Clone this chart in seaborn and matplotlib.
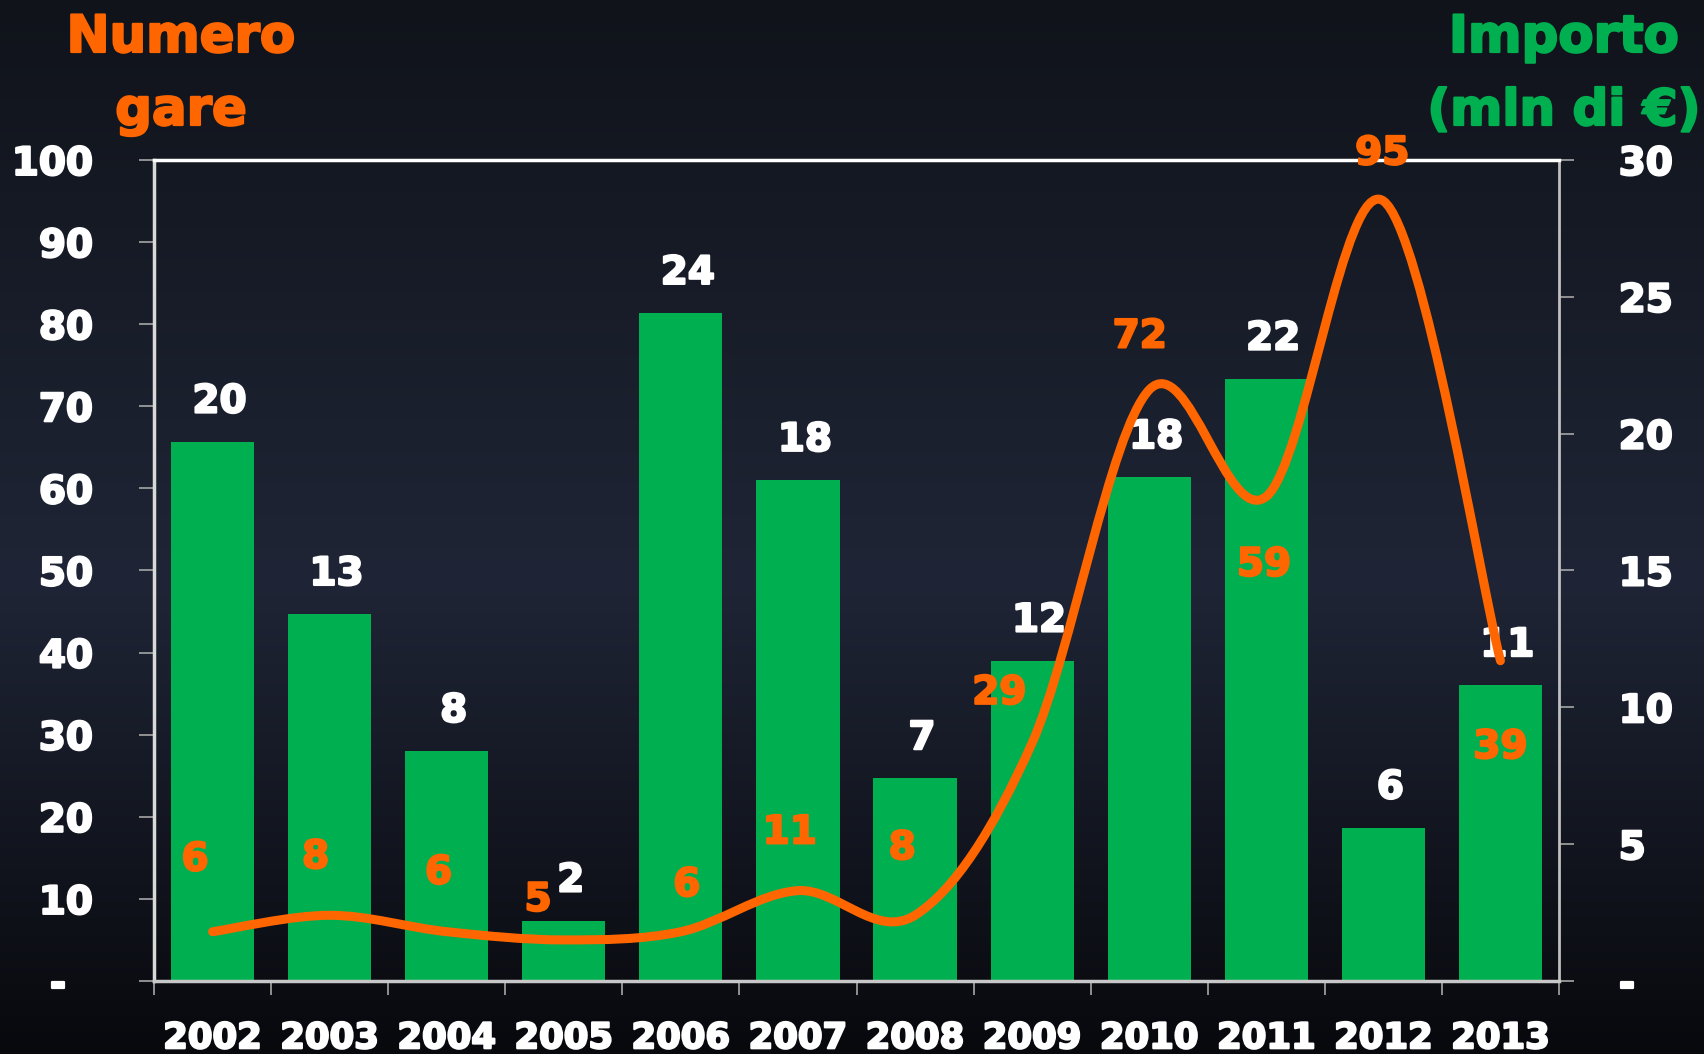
import numpy as np
import matplotlib
matplotlib.use("Agg")
import matplotlib.pyplot as plt
import matplotlib.patheffects as pe
from matplotlib.path import Path
from matplotlib.patches import PathPatch
from matplotlib.colors import LinearSegmentedColormap
import seaborn as sns

anni = ["2002", "2003", "2004", "2005", "2006", "2007",
        "2008", "2009", "2010", "2011", "2012", "2013"]
importo = [19.7, 13.4, 8.4, 2.2, 24.4, 18.3, 7.4, 11.7, 18.4, 22.0, 5.6, 10.8]
gare = [6, 8, 6, 5, 6, 11, 8, 29, 72, 59, 95, 39]

# dove stanno le etichette arancioni (spostamento in categorie, quota sull'asse sx)
gare_lbl_dx = [-0.15, -0.12, -0.07, -0.22, 0.05, -0.07, -0.11, -0.28, -0.08, -0.02, -0.01, 0.0]
gare_lbl_y = [14.8, 15.1, 13.2, 9.9, 11.7, 18.1, 16.2, 35.1, 78.5, 50.7, 100.8, 28.5]

VERDE = "#00B050"
ARANCIO = "#FF6600"
GRIGIO = "#a6a6a6"

sns.set_theme(style="ticks")
plt.rcParams["font.family"] = ["DejaVu Sans"]
plt.rcParams["font.weight"] = "bold"


def grassetto(t):
    # testo un po' piu' pesante, come il font dell'originale
    t.set_path_effects([pe.withStroke(linewidth=1.6, foreground=t.get_color())])


fig = plt.figure(figsize=(17.04, 10.54), dpi=100)

# sfondo sfumato
bg = fig.add_axes([0, 0, 1, 1], zorder=-10)
sfumato = LinearSegmentedColormap.from_list(
    "bg", [(0, "#10131a"), (0.55, "#1f2536"), (1, "#08090d")])
bg.imshow(np.linspace(0, 1, 256).reshape(-1, 1), aspect="auto", cmap=sfumato,
          extent=[0, 1, 0, 1])
bg.axis("off")

ax = fig.add_axes([0.0904, 0.0693, 0.8245, 0.7790])
ax2 = ax.twinx()
ax.set_zorder(3)
ax2.set_zorder(2)
ax.patch.set_visible(False)
ax2.patch.set_visible(False)

# barre importo (asse destro)
sns.barplot(x=anni, y=importo, color=VERDE, saturation=1, width=0.71,
            linewidth=0, errorbar=None, ax=ax2)
ax2.set_ylim(0, 30)
ax2.set_yticks(range(0, 31, 5))
ax2.set_yticklabels(["-"] + [str(v) for v in range(5, 31, 5)])
ax2.set_xlabel("")
ax2.set_ylabel("")
for s in ax2.spines.values():
    s.set_visible(False)
ax2.tick_params(axis="y", direction="out", length=11, width=1.2, color=GRIGIO,
                pad=32, labelsize=28, labelcolor="white")
for i, v in enumerate(importo):
    t = ax2.annotate(f"{v:.0f}", (i, v), xytext=(5, 29), textcoords="offset points",
                     ha="center", va="center", color="white", fontsize=28,
                     fontweight="bold")
    grassetto(t)

# linea numero gare (asse sinistro), smussata come in excel
pts = np.column_stack([np.arange(len(gare)), gare]).astype(float)
ext = np.vstack([pts[0], pts, pts[-1]])
verts = [pts[0]]
codes = [Path.MOVETO]
for i in range(len(pts) - 1):
    p0, p1, p2, p3 = ext[i], ext[i + 1], ext[i + 2], ext[i + 3]
    verts += [p1 + (p2 - p0) / 6, p2 - (p3 - p1) / 6, p2]
    codes += [Path.CURVE4] * 3
ax.add_patch(PathPatch(Path(verts, codes), fill=False, edgecolor=ARANCIO,
                       lw=6.5, capstyle="round", joinstyle="round"))

for i, g in enumerate(gare):
    t = ax.text(i + gare_lbl_dx[i], gare_lbl_y[i], str(g), ha="center", va="center",
                color=ARANCIO, fontsize=28, fontweight="bold", clip_on=False, zorder=6)
    grassetto(t)

ax.set_xlim(-0.5, 11.5)
ax.set_ylim(0, 100)
ax.set_yticks(range(0, 101, 10))
ax.set_yticklabels(["-  "] + [str(v) for v in range(10, 101, 10)])
ax.tick_params(axis="y", direction="out", length=11, width=1.2, color=GRIGIO,
               pad=33, labelsize=28, labelcolor="white", left=True, right=False)
ax.set_xticks(range(len(anni)))
ax.set_xticklabels(anni)
ax.set_xticks(np.arange(-0.5, len(anni), 1), minor=True)
ax.tick_params(axis="x", which="major", length=0, pad=29, labelsize=25.5,
               labelcolor="white")
ax.tick_params(axis="x", which="minor", length=10, width=1.2, color=GRIGIO,
               direction="out")
ax.spines["top"].set_color("white")
ax.spines["top"].set_linewidth(2.5)
ax.spines["left"].set_color("#d9d9d9")
ax.spines["left"].set_linewidth(2.5)
ax.spines["right"].set_color("#bfbfbf")
ax.spines["right"].set_linewidth(2)
ax.spines["bottom"].set_color("#c8c8c8")
ax.spines["bottom"].set_linewidth(2.5)

for t in ax.get_xticklabels() + ax.get_yticklabels() + ax2.get_yticklabels():
    grassetto(t)

# titoli degli assi
titoli = [
    ("Numero", 181, 52, ARANCIO, 37),
    ("gare", 181, 125, ARANCIO, 37),
    ("Importo", 1564, 52, VERDE, 37),
    ("(mln di €)", 1564, 125, VERDE, 36),
]
for testo, x, y, col, fs in titoli:
    t = fig.text(x / 1704, 1 - y / 1054, testo, ha="center", va="baseline",
                 color=col, fontsize=fs, fontweight="bold")
    grassetto(t)

fig.savefig("out.png", dpi=100)
